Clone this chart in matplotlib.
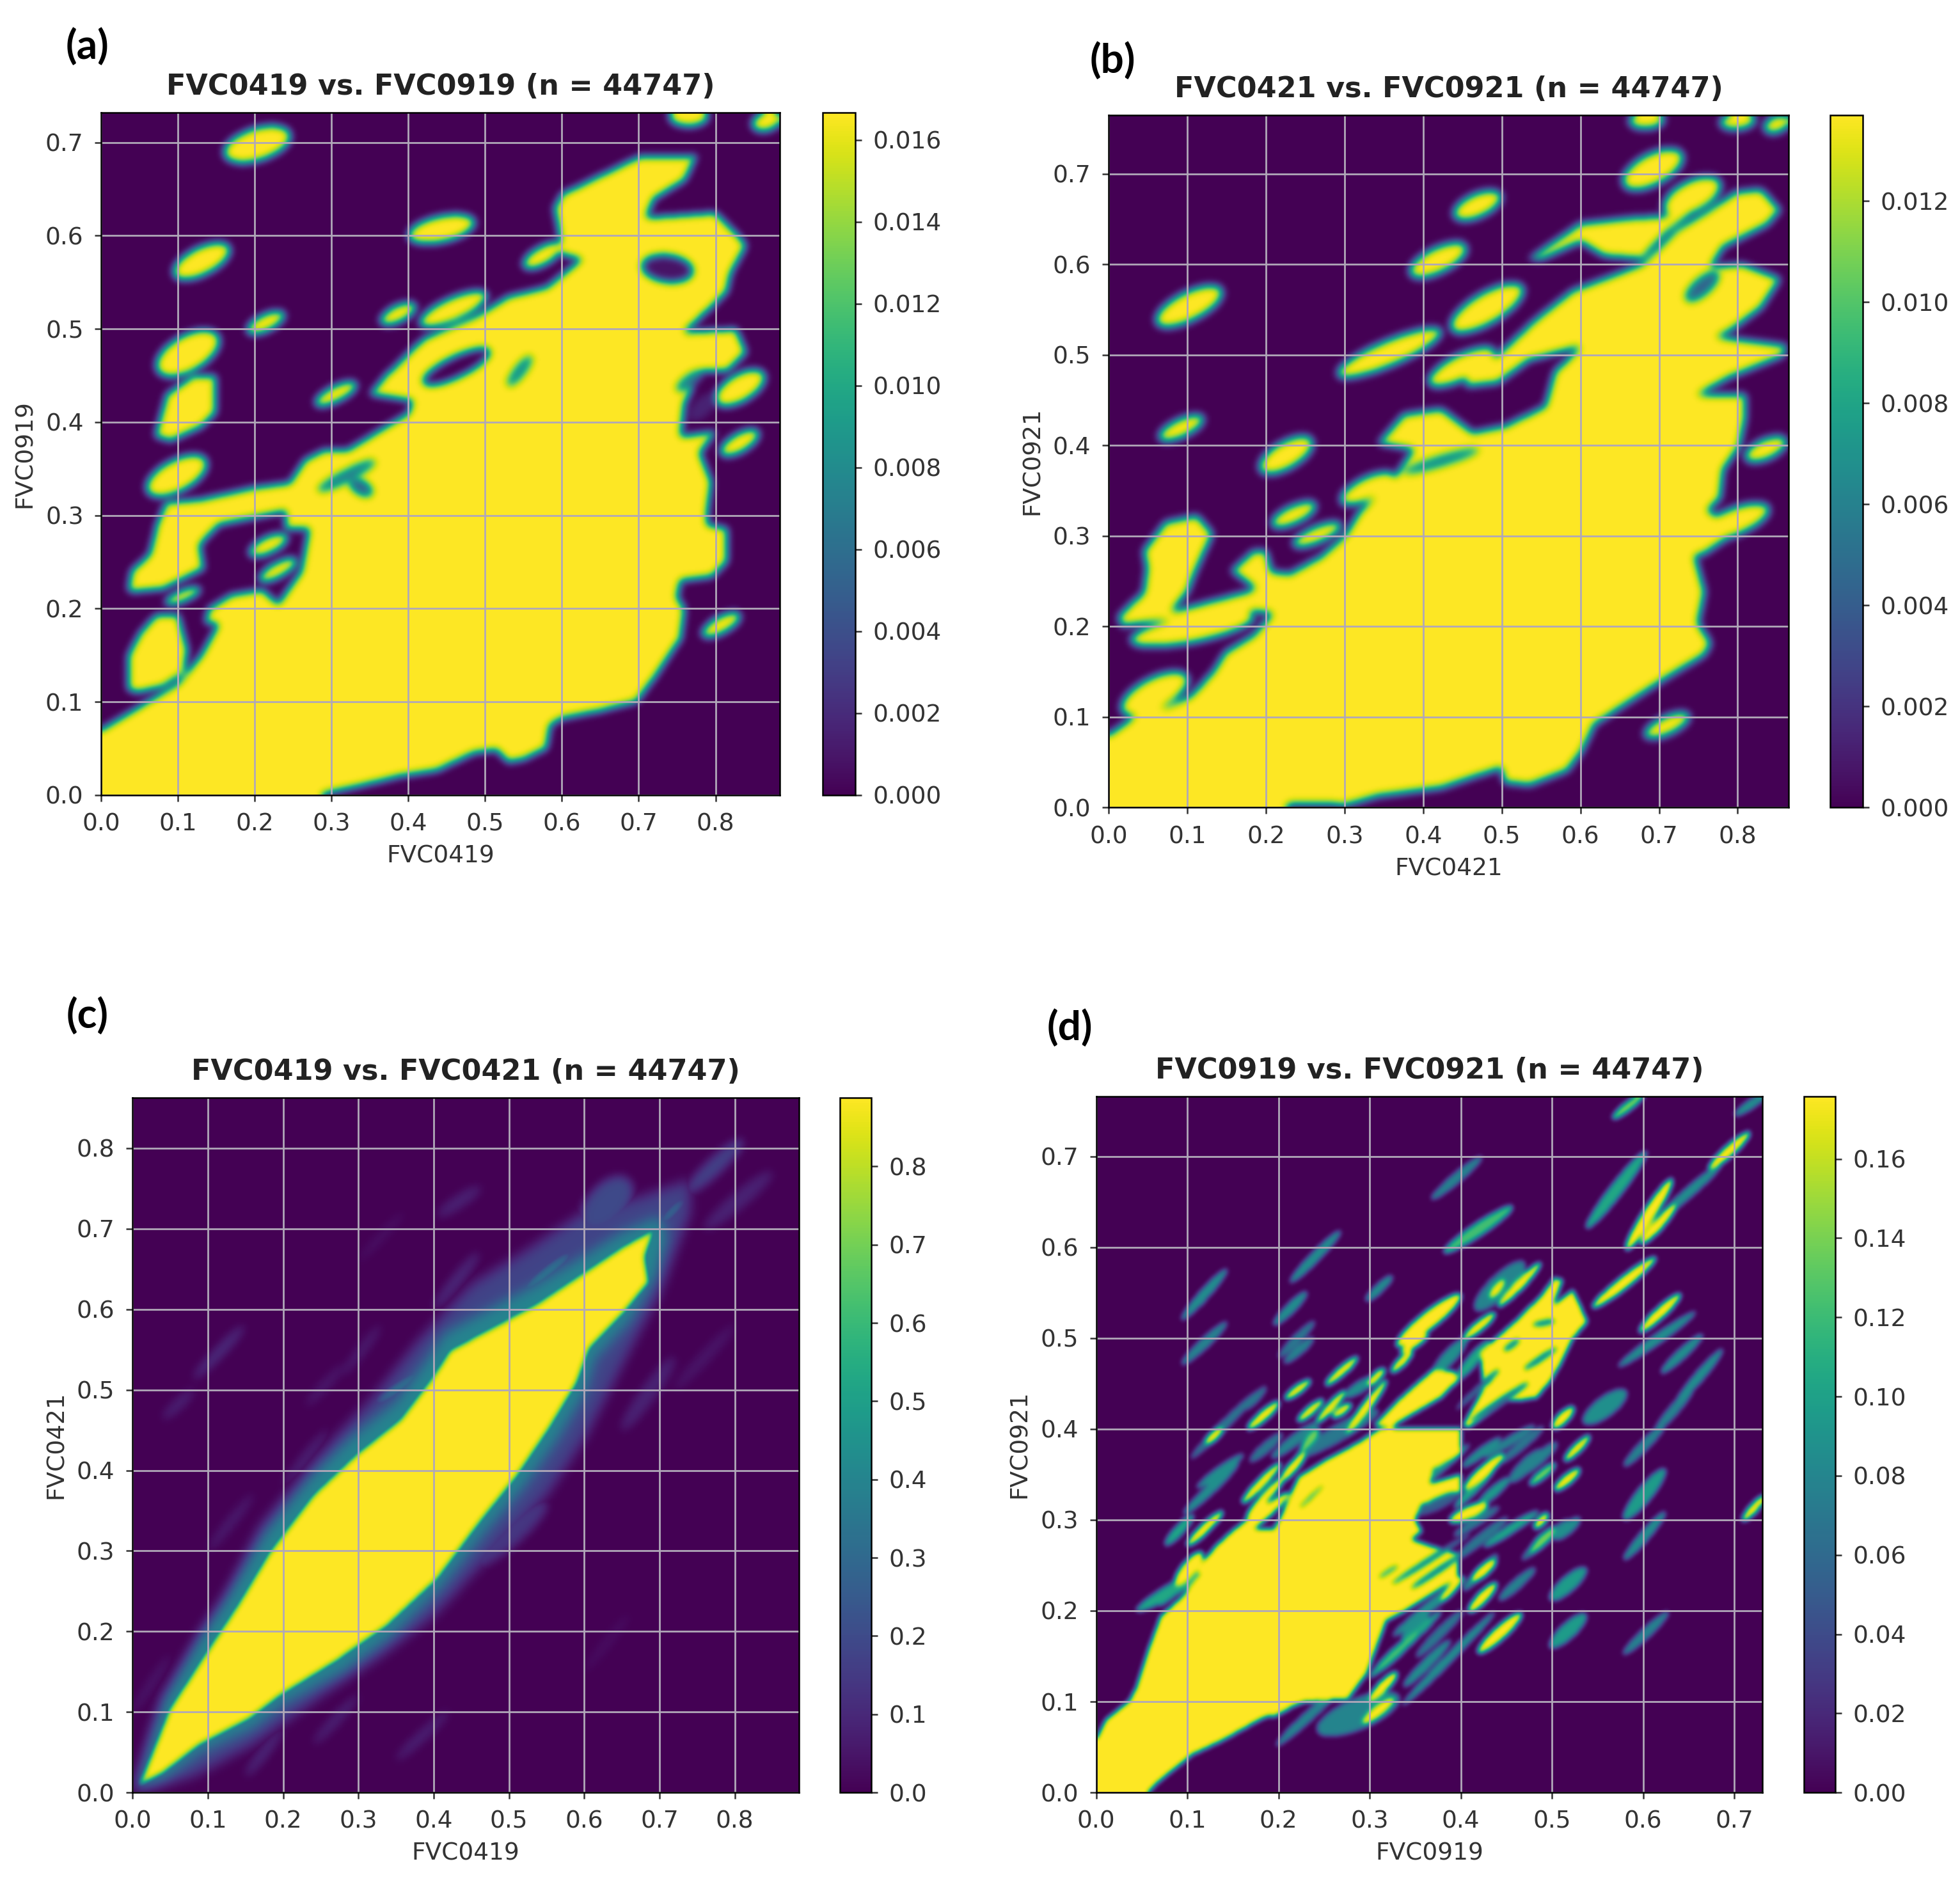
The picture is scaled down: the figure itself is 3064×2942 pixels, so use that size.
import numpy as np
import matplotlib
matplotlib.use('Agg')
import matplotlib.pyplot as plt
from matplotlib.path import Path

# shapes, all in data units
# polys = outlines of saturated areas, blobs = (x1, y1, x2, y2, width, level) tip to tip

a_main = [(-.02,.06),(0,.07),(.05,.095),(.1,.12),(.13,.15),(.152,.183),(.135,.185),(.14,.2),(.17,.215),(.21,.22),(.23,.205),
          (.26,.24),(.27,.285),(.24,.285),(.24,.31),(.245,.335),(.265,.36),(.29,.37),(.32,.37),(.36,.39),(.4,.41),
          (.405,.423),(.35,.43),(.37,.45),(.42,.49),(.49,.515),(.53,.535),(.58,.545),(.625,.575),(.6,.58),(.595,.61),
          (.59,.63),(.6,.645),(.65,.665),(.7,.685),(.775,.686),(.76,.66),(.72,.64),(.71,.62),(.75,.622),(.8,.625),
          (.83,.6),(.84,.59),(.82,.56),(.815,.54),(.79,.52),(.76,.497),(.827,.5),(.84,.475),(.815,.455),(.78,.455),
          (.76,.42),(.755,.385),(.8,.39),(.78,.367),(.795,.336),(.79,.305),(.79,.29),(.815,.286),(.815,.25),(.795,.234),
          (.755,.23),(.75,.212),(.76,.2),(.755,.168),(.72,.125),(.697,.1),(.65,.09),(.6,.082),(.585,.075),(.58,.05),
          (.55,.038),(.53,.035),(.515,.048),(.486,.045),(.437,.026),(.39,.02),(.34,.01),(.29,.001),(.28,-.02),(-.02,-.02)]
a_left = [(.035,.221),(.039,.24),(.063,.259),(.072,.29),(.084,.314),(.128,.317),(.2,.33),(.245,.335),(.25,.306),
          (.153,.29),(.128,.268),(.133,.243),(.08,.221),(.039,.218)]
a_low = [(.035,.113),(.035,.15),(.051,.175),(.072,.193),(.1,.193),(.112,.156),(.108,.131),(.08,.116),(.047,.11)]
a_col = [(.07,.385),(.085,.43),(.12,.45),(.148,.45),(.148,.41),(.13,.395),(.09,.38)]
a_blobs = [(.16,.688,.246,.709,.035,1),(.74,.728,.79,.728,.02,1),(.848,.719,.885,.727,.02,1),(.4,.6,.486,.615,.028,1),
           (.094,.559,.167,.587,.03,1),(.55,.568,.6,.59,.02,1),(.364,.508,.409,.525,.018,1),(.415,.506,.502,.537,.025,1),
           (.19,.498,.238,.516,.018,1),(.072,.457,.153,.491,.04,1),(.059,.327,.137,.358,.035,1),(.279,.42,.332,.441,.017,1),
           (.8,.423,.864,.451,.03,1),(.807,.367,.856,.389,.02,1),(.783,.172,.832,.193,.018,1),(.084,.206,.128,.221,.012,1),
           (.193,.259,.242,.277,.018,1),(.206,.231,.254,.252,.016,1)]
a_cuts = [(.53,.44,.56,.47,.012,.45),(.283,.327,.356,.358,.012,.4),(.324,.336,.352,.324,.015,.3),
          (.75,.435,.783,.454,.012,.4),(.767,.404,.8,.429,.02,.1),(.705,.568,.77,.562,.028,.05),
          (.42,.443,.505,.476,.022,0)]

b_main = [(-.02,.07),(0,.08),(.04,.105),(.072,.11),(.104,.123),(.132,.149),(.148,.171),(.184,.19),(.207,.213),(.192,.238),(.156,.261),
          (.184,.283),(.2,.283),(.207,.26),(.23,.258),(.27,.277),(.3,.3),(.32,.328),(.36,.36),(.387,.395),(.343,.402),
          (.375,.434),(.423,.44),(.463,.414),(.503,.421),(.555,.443),(.567,.481),(.6,.509),(.535,.494),(.495,.469),(.455,.465),
          (.455,.475),(.495,.5),(.543,.539),(.59,.571),(.63,.584),(.678,.6),(.722,.638),(.758,.657),(.798,.68),(.83,.683),
          (.854,.66),(.838,.644),(.782,.619),(.766,.597),(.806,.6),(.854,.584),(.83,.552),(.79,.526),(.774,.52),(.862,.51),
          (.858,.499),(.79,.475),(.75,.456),(.81,.456),(.81,.43),(.802,.398),(.782,.373),(.778,.341),(.762,.328),(.802,.306),
          (.758,.28),(.746,.277),(.758,.238),(.75,.203),(.766,.181),(.758,.168),(.71,.143),(.646,.107),(.618,.091),(.603,.063),
          (.583,.04),(.535,.024),(.503,.027),(.499,.043),(.423,.021),(.343,.012),(.303,.002),(.231,.003),(.2,-.02),(-.02,-.02)]
b_left = [(.012,.21),(.044,.238),(.048,.264),(.044,.283),(.072,.315),(.112,.322),(.132,.302),(.112,.264),(.1,.238),(.08,.216),
          (.176,.238),(.207,.251),(.215,.213),(.184,.216),(.152,.203),(.08,.207),(.016,.2)]
b_band = [(.535,.606),(.6,.645),(.662,.651),(.718,.654),(.75,.673),(.774,.692),(.758,.667),(.71,.635),(.678,.606),(.63,.609),
          (.6,.625),(.551,.606)]
b_blobs = [(.654,.689,.73,.721,.035,1),(.662,.758,.706,.76,.018,1),(.778,.756,.822,.76,.018,1),(.834,.75,.866,.76,.018,1),
           (.439,.654,.499,.676,.026,1),(.383,.59,.455,.619,.028,1),(.06,.536,.144,.571,.032,1),(.435,.529,.527,.574,.035,1),
           (.291,.478,.423,.526,.028,1),(.407,.469,.491,.504,.028,1),(.064,.408,.12,.43,.02,1),(.192,.373,.259,.405,.03,1),
           (.207,.312,.263,.334,.02,1),(.235,.29,.295,.312,.018,1),(.295,.338,.363,.366,.025,1),(.682,.079,.738,.101,.02,1),
           (.016,.107,.1,.143,.036,1),(.81,.386,.862,.405,.022,1),(.028,.184,.184,.21,.03,1),(.706,.66,.778,.69,.035,1),
           (.75,.3,.84,.33,.03,1)]
b_cuts = [(.375,.37,.47,.395,.01,.4),(.735,.561,.775,.59,.018,.3)]

c_main = [(.007,.007),(.048,.104),(.098,.176),(.139,.234),(.181,.299),(.239,.37),(.297,.421),(.355,.464),(.396,.514),(.421,.55),
          (.479,.579),(.537,.608),(.595,.644),(.653,.68),(.695,.701),(.682,.665),(.687,.633),(.653,.594),(.608,.55),(.591,.507),
          (.554,.45),(.512,.392),(.463,.335),(.405,.263),(.338,.205),(.272,.162),(.197,.119),(.156,.09),(.09,.058),(.04,.022)]
c_halo = [(0,0),(.03,.09),(.1,.2),(.17,.33),(.25,.42),(.32,.49),(.38,.56),(.45,.63),(.52,.67),(.6,.72),(.68,.74),(.74,.76),
          (.74,.72),(.7,.62),(.66,.55),(.6,.44),(.55,.37),(.47,.29),(.4,.22),(.33,.17),(.25,.12),(.16,.06),(.08,.02)]
c_edge = [(.005,.005),(.04,.115),(.09,.195),(.13,.25),(.175,.32),(.235,.39),(.29,.44),(.35,.485),(.39,.535),(.415,.57),
          (.475,.6),(.535,.63),(.59,.66),(.65,.695),(.7,.715),(.71,.69),(.695,.64),(.66,.585),(.615,.54),(.6,.495),
          (.565,.44),(.52,.38),(.47,.325),(.41,.255),(.345,.195),(.28,.15),(.2,.11),(.16,.08),(.09,.05),(.04,.015)]
c_streaks = [(.081,.514,.148,.579,.012,.14),(.04,.464,.081,.5,.012,.1),(.405,.716,.463,.752,.015,.1),(.736,.745,.811,.81,.02,.2),
             (.76,.7,.85,.77,.02,.1),(.32,.48,.395,.53,.012,.5),(.51,.615,.587,.673,.014,.48),(.695,.7,.736,.74,.008,.6),
             (.6,.7,.66,.76,.05,.22),(.65,.45,.72,.54,.02,.1),(.72,.5,.8,.58,.015,.06),(.15,.02,.2,.08,.012,.12),
             (.35,.04,.42,.1,.012,.1),(.45,.28,.55,.36,.03,.16),(.55,.47,.66,.58,.03,.2),(.1,.3,.16,.37,.012,.08),
             (.23,.48,.28,.53,.012,.07),(.0,.1,.05,.17,.012,.06),(.3,.66,.36,.72,.01,.05),(.6,.15,.66,.22,.012,.04),
             (.2,.38,.26,.45,.012,.1),(.28,.52,.33,.58,.012,.08),(.24,.06,.3,.12,.012,.1),(.4,.6,.46,.67,.014,.12)]

d_main = [(-.02,.05),(0,.06),(.01,.08),(.035,.1),(.043,.115),(.056,.156),(.07,.194),(.105,.226),(.142,.271),(.16,.29),(.194,.29),
          (.2,.3),(.221,.347),(.25,.365),(.287,.385),(.31,.4),(.4,.4),(.4,.372),(.37,.355),(.366,.34),(.4,.35),(.4,.33),
          (.357,.316),(.35,.3),(.357,.287),(.346,.278),(.37,.27),(.397,.262),(.397,.236),(.34,.2),(.318,.188),(.297,.131),
          (.276,.102),(.228,.099),(.18,.08),(.139,.057),(.105,.041),(.07,.013),(.036,-.02),(-.02,-.02)]
d_band = [(.305,.404),(.327,.428),(.348,.447),(.37,.466),(.394,.463),(.397,.453),(.378,.434),(.354,.42),(.332,.407),(.324,.4)]
d_lobe = [(.402,.404),(.424,.444),(.421,.485),(.434,.496),(.461,.52),(.488,.547),(.502,.566),(.512,.564),(.502,.537),(.523,.553),
          (.539,.518),(.523,.499),(.51,.472),(.499,.453),(.483,.434),(.464,.431),(.451,.431),(.424,.412),(.408,.401)]
d_blobs = [(.101,.529,.135,.567,.009,.5),(.101,.478,.135,.51,.009,.45),(.221,.57,.259,.609,.009,.5),(.376,.66,.414,.692,.009,.45),
           (.393,.602,.445,.637,.012,.7),(.548,.634,.593,.692,.012,.6),(.572,.746,.596,.765,.008,.8),(.679,.692,.71,.72,.01,1),
           (.706,.749,.73,.765,.008,.5),(.627,.64,.675,.682,.009,.5),(.589,.609,.624,.663,.012,1),(.603,.61,.63,.64,.01,1),
           (.555,.542,.603,.58,.011,1),(.603,.513,.634,.542,.01,1),(.586,.478,.644,.519,.009,.5),(.627,.468,.658,.497,.009,.5),
           (.644,.437,.679,.478,.009,.5),(.586,.366,.617,.398,.009,.45),(.62,.405,.648,.437,.009,.45),(.586,.309,.617,.347,.014,.55),
           (.586,.264,.617,.3,.009,.5),(.713,.303,.73,.322,.008,1),(.586,.159,.62,.191,.009,.45),(.08,.277,.101,.3,.009,.6),
           (.105,.315,.146,.354,.009,.5),(.122,.386,.135,.398,.008,1),(.115,.379,.166,.43,.008,.4),(.105,.277,.132,.303,.009,1),
           (.056,.207,.111,.239,.012,.6),(.091,.233,.111,.258,.014,1),(.208,.061,.256,.105,.009,.45),(.256,.073,.318,.099,.028,.45),
           (.297,.08,.321,.099,.01,1),(.304,.105,.325,.127,.01,1),(.311,.137,.345,.169,.009,.7),(.345,.124,.38,.159,.009,.5),
           (.34,.5,.389,.539,.016,1),(.408,.503,.432,.523,.009,1),(.434,.547,.445,.561,.008,1),(.448,.542,.48,.575,.009,1),
           (.327,.466,.343,.482,.008,1),(.257,.453,.281,.474,.008,1),(.211,.436,.23,.45,.008,1),(.171,.404,.195,.425,.009,1),
           (.225,.412,.244,.428,.008,1),(.246,.412,.268,.436,.008,1),(.262,.415,.276,.425,.008,1),(.281,.404,.311,.444,.009,1),
           (.278,.439,.3,.453,.01,.5),(.3,.45,.313,.463,.008,1),(.2,.52,.225,.545,.009,.5),(.3,.545,.32,.564,.008,.5),
           (.206,.485,.233,.512,.008,.4),(.211,.477,.233,.496,.008,.45),(.504,.404,.52,.42,.01,1),(.542,.412,.574,.436,.018,.5),
           (.518,.369,.537,.388,.008,1),(.507,.336,.526,.352,.009,1),(.48,.342,.499,.358,.008,.8),(.41,.339,.44,.366,.011,1),
           (.434,.374,.472,.398,.008,.45),(.459,.347,.483,.371,.012,.45),(.394,.301,.423,.314,.012,1),(.483,.293,.493,.304,.008,1),
           (.48,.268,.499,.287,.009,.8),(.507,.282,.526,.298,.01,.5),(.434,.276,.472,.301,.008,.6),(.402,.263,.442,.295,.009,.4),
           (.416,.236,.434,.252,.01,1),(.413,.203,.434,.225,.01,1),(.448,.217,.475,.241,.009,.45),(.504,.217,.531,.241,.014,.55),
           (.504,.165,.531,.19,.014,.55),(.426,.16,.459,.19,.012,1),(.34,.171,.359,.192,.012,.5),(.359,.157,.394,.192,.009,.4),
           (.166,.325,.195,.355,.009,1),(.171,.309,.2,.341,.009,1),(.206,.347,.225,.369,.009,1),(.227,.379,.241,.396,.008,.8),
           (.233,.377,.295,.412,.015,.4),(.174,.369,.198,.39,.009,.4),(.2,.374,.235,.401,.01,.45),(.424,.539,.461,.575,.02,.45),
           (.375,.466,.4,.493,.012,.5),(.4,.46,.425,.49,.01,.6),(.36,.34,.4,.375,.006,.5),(.4,.32,.43,.35,.008,.6),
           (.408,.363,.437,.385,.008,.5),(.451,.369,.483,.396,.008,.4),(.472,.355,.499,.379,.01,.45),(.424,.32,.448,.341,.009,.55),
           (.4,.287,.434,.309,.008,.4),(.442,.282,.477,.304,.008,.5),(.408,.228,.434,.255,.008,.5),(.381,.214,.397,.233,.008,1),
           (.475,.263,.51,.293,.008,.45),(.166,.425,.182,.442,.007,.4),(.338,.487,.359,.501,.008,1),(.338,.182,.393,.226,.009,.5),
           (.352,.112,.421,.182,.008,.5),(.311,.137,.366,.188,.008,.6),(.077,.214,.118,.252,.009,.6),(.118,.341,.153,.366,.008,.5),
           (.09,.2,.13,.25,.012,1),(.12,.25,.16,.29,.012,1),(.15,.28,.2,.32,.012,1),(.2,.09,.24,.12,.01,1)]
d_cuts = [(.475,.469,.499,.485,.005,.35),(.402,.428,.434,.458,.006,.35),(.421,.415,.464,.444,.006,.35),(.45,.488,.461,.496,.005,.4),
          (.483,.515,.499,.518,.005,.4),(.338,.238,.397,.276,.005,.4),(.354,.23,.394,.257,.005,.35),(.313,.238,.327,.247,.004,.6),
          (.227,.317,.244,.333,.003,.6),(.36,.31,.39,.325,.012,.3)]

a_ticks = [0,.1,.2,.3,.4,.5,.6,.7,.8]
a_yticks = [0,.1,.2,.3,.4,.5,.6,.7]
a_cticks = [0,.002,.004,.006,.008,.01,.012,.014,.016]
b_cticks = [0,.002,.004,.006,.008,.01,.012]
c_cticks = [0,.1,.2,.3,.4,.5,.6,.7,.8]
d_cticks = [0,.02,.04,.06,.08,.1,.12,.14,.16]

W, H = 3064, 2942
S = 3064 / 1568
N = 700


def smooth(img, sigma):
    # gaussian blur with sigma in grid cells, edges held
    r = int(sigma * 4) + 1
    k = np.exp(-0.5 * (np.arange(-r, r + 1) / sigma) ** 2)
    k = k / k.sum()
    out = np.pad(img, r, mode='edge')
    out = np.apply_along_axis(lambda m: np.convolve(m, k, mode='same'), 0, out)
    out = np.apply_along_axis(lambda m: np.convolve(m, k, mode='same'), 1, out)
    return out[r:-r, r:-r]


def paint_blob(img, X, Y, blob, cut=False, stretch=1, fat=1):
    x1, y1, x2, y2, w, lv = blob
    L = np.hypot(x2 - x1, y2 - y1)
    ux, uy = (x2 - x1) / L, (y2 - y1) / L
    dx, dy = X - (x1 + x2) / 2, Y - (y1 + y2) / 2
    m = ((dx * ux + dy * uy) / (stretch * L / 2)) ** 2 + ((-dx * uy + dy * ux) / (fat * w / 2)) ** 2 <= 1
    if cut:
        img[m] = lv
    else:
        img[m] = np.maximum(img[m], lv)


def make_field(xmax, ymax, polys, blobs, cuts=(), sigma=.005, soft_polys=(), soft_blobs=(), stretch=1, fat=1):
    xs = np.linspace(0, xmax, N)
    ys = np.linspace(0, ymax, N)
    X, Y = np.meshgrid(xs, ys)
    pts = np.column_stack([X.ravel(), Y.ravel()])
    img = np.zeros(X.shape)
    for p in polys:
        img[Path(p + [p[0]]).contains_points(pts).reshape(X.shape)] = 1
    for b in blobs:
        paint_blob(img, X, Y, b, stretch=stretch, fat=fat)
    for b in cuts:
        paint_blob(img, X, Y, b, cut=True, stretch=stretch)
    cell = xmax / N
    img = smooth(img, sigma / cell)
    if len(soft_polys) or len(soft_blobs):
        soft = np.zeros(X.shape)
        for p, lv in soft_polys:
            soft[Path(p + [p[0]]).contains_points(pts).reshape(X.shape)] = lv
        soft = smooth(soft, .008 / cell)
        lines = np.zeros(X.shape)
        for b in soft_blobs:
            paint_blob(lines, X, Y, b)
        lines = smooth(lines, .006 / cell)
        img = np.maximum(img, np.maximum(soft, lines))
    return img


def panel(box, cbox, xmax, ymax, field, vmax, xticks, yticks, cticks, cfmt, title, xlab, ylab):
    l, r, t, b = box
    ax = fig.add_axes([l * S / W, 1 - b * S / H, (r - l) * S / W, (b - t) * S / H])
    im = ax.imshow(field * vmax, origin='lower', extent=[0, xmax, 0, ymax], aspect='auto', cmap='viridis',
                   vmin=0, vmax=vmax, interpolation='bilinear')
    ax.set_xlim(0, xmax)
    ax.set_ylim(0, ymax)
    ax.set_xticks(xticks)
    ax.set_yticks(yticks)
    ax.xaxis.set_major_formatter(lambda v, p: '%.1f' % v)
    ax.yaxis.set_major_formatter(lambda v, p: '%.1f' % v)
    ax.grid(True, color='#b0a8b8', lw=2)
    ax.tick_params(labelsize=FS, length=7, width=1.8, colors='#333333', pad=13)
    ax.set_xlabel(xlab, fontsize=FS, labelpad=10, color='#333333')
    ax.set_ylabel(ylab, fontsize=FS, labelpad=10, color='#333333')
    ax.set_title(title, fontsize=TS, fontweight='bold', pad=20, color='#222222')
    for s in ax.spines.values():
        s.set_linewidth(1.8)
    cl, cr = cbox
    cax = fig.add_axes([cl * S / W, 1 - b * S / H, (cr - cl) * S / W, (b - t) * S / H])
    cb = fig.colorbar(im, cax=cax)
    cb.set_ticks(cticks)
    cb.ax.yaxis.set_major_formatter(lambda v, p: cfmt % v)
    cb.ax.tick_params(labelsize=FS, length=7, width=1.8, colors='#333333', pad=13)
    cb.outline.set_linewidth(1.8)


FS = 27
TS = 32
fig = plt.figure(figsize=(W / 100, H / 100), dpi=100)

a_x, a_y = .884, .732
b_x, b_y = .865, .765
c_x, c_y = .885, .863
d_x, d_y = .731, .766

f_a = make_field(a_x, a_y, [a_main, a_left, a_low, a_col], a_blobs, a_cuts)
f_b = make_field(b_x, b_y, [b_main, b_left, b_band], b_blobs, b_cuts)
f_c = make_field(c_x, c_y, [c_main], [], sigma=.004, soft_polys=[(c_halo, .2), (c_edge, .45)], soft_blobs=c_streaks)
f_d = make_field(d_x, d_y, [d_main, d_band, d_lobe], d_blobs, d_cuts, sigma=.0025, stretch=1.45, fat=1.2)

panel((81, 624, 90, 636), (658, 684), a_x, a_y, f_a, .01667, a_ticks, a_yticks, a_cticks, '%.3f',
      'FVC0419 vs. FVC0919 (n = 44747)', 'FVC0419', 'FVC0919')
panel((887, 1431, 92, 646), (1464, 1490), b_x, b_y, f_b, .0137, a_ticks, a_yticks, b_cticks, '%.3f',
      'FVC0421 vs. FVC0921 (n = 44747)', 'FVC0421', 'FVC0921')
panel((106, 639, 878, 1434), (672, 697), c_x, c_y, f_c, .888, a_ticks, a_ticks, c_cticks, '%.1f',
      'FVC0419 vs. FVC0421 (n = 44747)', 'FVC0419', 'FVC0421')
panel((877, 1410, 877, 1434), (1443, 1468), d_x, d_y, f_d, .1758, a_yticks, a_yticks, d_cticks, '%.2f',
      'FVC0919 vs. FVC0921 (n = 44747)', 'FVC0919', 'FVC0921')

for lab, px, py in [('(a)', 70, 37), ('(b)', 890, 48), ('(c)', 70, 812), ('(d)', 856, 822)]:
    fig.text(px * S / W, 1 - py * S / H, lab, fontsize=46, fontweight='bold', family='Lato', ha='center', va='center')

fig.savefig('out.png', dpi=100)
